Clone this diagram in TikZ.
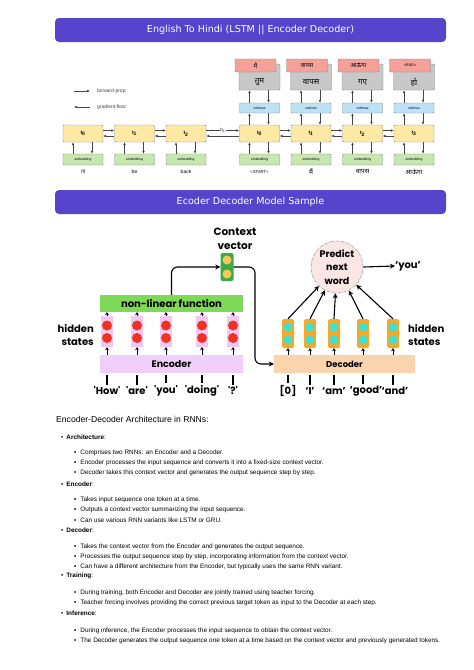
\documentclass[tikz,border=0pt]{standalone}
\usepackage{fontspec}
\setmainfont{Liberation Sans}
\newfontfamily\devfont[Script=Devanagari]{Noto Sans}
\newfontfamily\titlefont{DejaVu Sans}
\newfontfamily\popfont{Poppins}
\usetikzlibrary{arrows.meta}
\definecolor{barpurple}{RGB}{86,68,204}
\definecolor{tyellow}{RGB}{253,233,163}
\definecolor{tgreen}{RGB}{199,230,176}
\definecolor{tblue}{RGB}{190,226,245}
\definecolor{tred}{RGB}{245,160,152}
\definecolor{tgray}{RGB}{200,200,200}
\definecolor{tborder}{RGB}{135,135,135}
\definecolor{tarrow}{RGB}{70,70,70}
\definecolor{nlgreen}{RGB}{126,217,87}
\definecolor{encpink}{RGB}{240,208,250}
\definecolor{hidpink}{RGB}{240,200,245}
\definecolor{dotred}{RGB}{240,50,30}
\definecolor{decpeach}{RGB}{250,212,172}
\definecolor{colorange}{RGB}{247,168,40}
\definecolor{dotcyan}{RGB}{60,225,210}
\definecolor{cvgreen}{RGB}{60,170,70}
\definecolor{cvyellow}{RGB}{250,200,90}
\definecolor{predpink}{RGB}{251,230,230}
\begin{document}
\begin{tikzpicture}[x=1pt,y=-1pt,
  titlebar/.style={fill=barpurple,rounded corners=4pt,minimum width=391pt,minimum height=24pt,inner sep=0,text=white,font=\titlefont\fontsize{9.6}{11}\selectfont},
  tbase/.style={draw=tborder,rounded corners=1pt,inner sep=0,line width=0.4pt},
  tbox/.style={tbase,fill=tyellow,minimum width=40pt,minimum height=17pt,font=\fontsize{5}{6}\selectfont\bfseries},
  ebox/.style={tbase,fill=tgreen,minimum width=40pt,minimum height=11pt,font=\fontsize{3.4}{4}\selectfont},
  sbox/.style={tbase,fill=tblue,minimum width=40pt,minimum height=10pt,font=\fontsize{3.4}{4}\selectfont},
  gbox/.style={tbase,fill=tgray,minimum width=41pt,minimum height=26pt},
  rbox/.style={tbase,fill=tred,minimum width=41pt,minimum height=13pt,font=\devfont\fontsize{6}{7}\selectfont},
  gtext/.style={inner sep=0,font=\devfont\fontsize{8}{9}\selectfont},
  tlabel/.style={inner sep=0,font=\fontsize{5}{6}\selectfont},
  dlabel/.style={inner sep=0,font=\devfont\fontsize{6.5}{7}\selectfont},
  legend/.style={inner sep=0,anchor=west,text=tarrow,font=\fontsize{5}{6}\selectfont},
  tarr/.style={draw=tarrow,line width=0.5pt,-{Latex[length=3pt,width=2.6pt]}},
  pop/.style={inner sep=0,font=\popfont\bfseries\fontsize{10}{13}\selectfont},
  hcol/.style={fill=hidpink,minimum width=12pt,minimum height=31pt,inner sep=0},
  rdot/.style={circle,fill=dotred,minimum size=10pt,inner sep=0},
  ocol/.style={fill=colorange,rounded corners=2pt,minimum width=12pt,minimum height=29pt,inner sep=0},
  cdot/.style={circle,fill=dotcyan,minimum size=9pt,inner sep=0},
  ydot/.style={circle,fill=cvyellow,minimum size=9pt,inner sep=0},
  sarr/.style={line width=1pt,-{Stealth[length=3pt,width=3.8pt]}},
  barrow/.style={line width=1.1pt,-{Stealth[length=5pt,width=5pt]}},
  tickline/.style={line width=1.3pt,shorten <=2pt,shorten >=2pt},
  para/.style={anchor=west,inner sep=0,font=\fontsize{6.4}{7}\selectfont},
]
\useasboundingbox (0,0) rectangle (474,670);
\fill[white] (0,0) rectangle (474,670);

% ---------- title bars
\node[titlebar] (title1) at (250.5,30) {English To Hindi (LSTM || Encoder Decoder)};
\node[titlebar] (title2) at (250.5,202) {Ecoder Decoder Model Sample};

% ---------- legend
\coordinate (lf1) at (74,91); \coordinate (lf2) at (90,91);
\draw[tarr] (lf1) -- (lf2);
\node[legend] (lfp) at (97,91) {forward-prop};
\coordinate (lg1) at (74,107); \coordinate (lg2) at (90,107);
\draw[tarr] (lg2) -- (lg1);
\node[legend] (lgf) at (97,107) {gradient-flow};

% ---------- encoder (top)
\foreach \i/\x in {0/83,1/134.5,2/186}{
  \node[tbox] (et\i) at (\x,133.5) {t\textsubscript{\i}};
  \node[ebox] (ee\i) at (\x,159.5) {embedding};
  \draw[tarr] ([xshift=-10pt]ee\i.north) -- ([xshift=-10pt]et\i.south);
  \draw[tarr] ([xshift=9pt]et\i.south) -- ([xshift=9pt]ee\i.north);
}
\node[tlabel] (ew0) at (83,172) {I'll};
\node[tlabel] (ew1) at (134.5,172) {be};
\node[tlabel] (ew2) at (186,172) {back};

% ---------- decoder (top)
\foreach \i/\x in {0/259.5,1/311,2/362.5,3/414}{
  \node[tbox] (dt\i) at (\x,133.5) {t\textsubscript{\i}};
  \node[ebox] (de\i) at (\x,159.5) {embedding};
  \node[sbox] (ds\i) at (\x,108) {softmax};
  \node[gbox] (dg\i) at (\x,77) {};
  \draw[tarr] ([xshift=-10pt]de\i.north) -- ([xshift=-10pt]dt\i.south);
  \draw[tarr] ([xshift=9pt]dt\i.south) -- ([xshift=9pt]de\i.north);
  \draw[tarr] ([xshift=-10pt]dt\i.north) -- ([xshift=-10pt]ds\i.south);
  \draw[tarr] ([xshift=9pt]ds\i.south) -- ([xshift=9pt]dt\i.north);
  \draw[tarr] ([xshift=-10pt]ds\i.north) -- ([xshift=-10pt]dg\i.south);
  \draw[tarr] ([xshift=9pt]dg\i.south) -- ([xshift=9pt]ds\i.north);
}
\node[gtext] (dgt0) at (259.5,82) {तुम};
\node[gtext] (dgt1) at (311,82) {वापस};
\node[gtext] (dgt2) at (362.5,82) {गए};
\node[gtext] (dgt3) at (414,82) {हो};
\node[rbox] (dr0) at (255.5,65.5) {मैं};
\node[rbox] (dr1) at (307,65.5) {वापस};
\node[rbox] (dr2) at (358.5,65.5) {आऊंगा};
\node[rbox,font=\fontsize{3.8}{4}\selectfont] (dr3) at (410,65.5) {<END>};
\node[tlabel,font=\fontsize{4.2}{5}\selectfont] (dw0) at (259.5,172) {<START>};
\node[dlabel] (dw1) at (311,172) {मैं};
\node[dlabel] (dw2) at (362.5,172) {वापस};
\node[dlabel] (dw3) at (414,172) {आऊंगा};

% horizontal arrows
\foreach \a/\b in {et0/et1,et1/et2,dt0/dt1,dt1/dt2,dt2/dt3}{
  \draw[tarr] ([yshift=3pt]\a.east) -- ([yshift=3pt]\b.west);
  \draw[tarr] ([yshift=-2.5pt]\b.west) -- ([yshift=-2.5pt]\a.east);
}
\draw[tarr] ([yshift=3pt]et2.east) -- node[fill=white,inner sep=0.6pt,font=\fontsize{4.5}{5}\selectfont] (h2) {h\textsubscript{2}} ([yshift=3pt]dt0.west);
\draw[tarr] ([yshift=-2.5pt]dt0.west) -- ([yshift=-2.5pt]et2.east);

% ---------- second diagram
\node[pop,align=center,font=\popfont\bfseries\fontsize{10.5}{14}\selectfont] (cvt) at (235,239) {Context\\vector};
\node[fill=cvgreen,rounded corners=2pt,minimum width=13pt,minimum height=28pt,inner sep=0] (cv) at (227,267) {};
\node[ydot] (cvd1) at (227,260) {};
\node[ydot] (cvd2) at (227,274) {};

\node[fill=nlgreen,minimum width=143pt,minimum height=17pt,inner sep=0,font=\popfont\bfseries\fontsize{10}{12}\selectfont] (nlf) at (171.5,303.5) {non-linear function};
\node[fill=encpink,minimum width=143pt,minimum height=18pt,inner sep=0,font=\popfont\bfseries\fontsize{9.5}{12}\selectfont] (enc) at (171.5,364) {Encoder};

\foreach \i/\x/\w in {1/107/How,2/137/are,3/166/you,4/202/doing,5/233/?}{
  \node[hcol] (hc\i) at (\x,331.5) {};
  \node[rdot] (hr\i a) at (\x,325.5) {};
  \node[rdot] (hr\i b) at (\x,338) {};
  \draw[sarr] (enc.north -| hc\i) -- (hc\i.south);
  \draw[sarr] (hc\i.north) -- (hc\i.north |- nlf.south);
  \node[pop] (wl\i) at (\x,391) {\textquotesingle\w\textquotesingle};
  \draw[tickline] (enc.south -| hc\i) -- (wl\i.north -| hc\i);
}
\node[pop,align=right,anchor=east] (hsl) at (94,335) {hidden\\states};

\draw[barrow,rounded corners=6pt] (nlf.north) |- (cv.west);

\node[fill=decpeach,minimum width=141pt,minimum height=18pt,inner sep=0,font=\popfont\bfseries\fontsize{8.5}{10}\selectfont] (dec) at (344.5,364) {Decoder};
\coordinate (turn) at (255,300);
\draw[barrow,rounded corners=6pt] (cv.east) -| (turn) |- (dec.west);

\node[circle,minimum size=52pt,inner sep=0,fill=predpink,draw=gray!75,line width=0.6pt,dash pattern=on 3pt off 1pt on 0.6pt off 1pt,align=center,font=\popfont\bfseries\fontsize{9.5}{13.5}\selectfont] (pred) at (337,267) {Predict\\next\\word};
\node[pop] (you) at (408,266) {‘you’};
\draw[barrow] (pred.east) -- (you.west);

\foreach \i/\x/\lx/\w in {1/288/288/[0],2/310/310/‘I’,3/334/334/‘am’,4/363/366/‘good’,5/393/395/‘and’}{
  \node[ocol] (oc\i) at (\x,333.5) {};
  \node[cdot] (oc\i a) at (\x,327) {};
  \node[cdot] (oc\i b) at (\x,340) {};
  \draw[sarr] (dec.north -| oc\i) -- (oc\i.south);
  \draw[barrow] (oc\i.north) -- (pred);
  \node[pop] (dl\i) at (\lx,391) {\w};
  \draw[tickline] (dec.south -| oc\i) -- (dl\i.north -| oc\i);
}
\node[pop,align=left,anchor=west] (hsr) at (408,335) {hidden\\states};

% ---------- text section
\node[anchor=west,inner sep=0,font=\fontsize{8.6}{10}\selectfont] (head) at (56,419) {Encoder-Decoder Architecture in RNNs:};
\node[para] (p1) at (61,437) {•\hspace{3pt}\textbf{Architecture}:};
\node[para] (p2) at (74,453) {▪\hspace{4pt}Comprises two RNNs: an Encoder and a Decoder.};
\node[para] (p3) at (74,463) {▪\hspace{4pt}Encoder processes the input sequence and converts it into a fixed-size context vector.};
\node[para] (p4) at (74,473) {▪\hspace{4pt}Decoder takes this context vector and generates the output sequence step by step.};
\node[para] (p5) at (61,484) {•\hspace{3pt}\textbf{Encoder}:};
\node[para] (p6) at (74,500) {▪\hspace{4pt}Takes input sequence one token at a time.};
\node[para] (p7) at (74,510) {▪\hspace{4pt}Outputs a context vector summarizing the input sequence.};
\node[para] (p8) at (74,520) {▪\hspace{4pt}Can use various RNN variants like LSTM or GRU.};
\node[para] (p9) at (61,530) {•\hspace{3pt}\textbf{Decoder}:};
\node[para] (p10) at (74,547) {▪\hspace{4pt}Takes the context vector from the Encoder and generates the output sequence.};
\node[para] (p11) at (74,557) {▪\hspace{4pt}Processes the output sequence step by step, incorporating information from the context vector.};
\node[para] (p12) at (74,567) {▪\hspace{4pt}Can have a different architecture from the Encoder, but typically uses the same RNN variant.};
\node[para] (p13) at (61,576) {•\hspace{3pt}\textbf{Training}:};
\node[para] (p14) at (74,593) {▪\hspace{4pt}During training, both Encoder and Decoder are jointly trained using teacher forcing.};
\node[para] (p15) at (74,603) {▪\hspace{4pt}Teacher forcing involves providing the correct previous target token as input to the Decoder at each step.};
\node[para] (p16) at (61,613) {•\hspace{3pt}\textbf{Inference}:};
\node[para] (p17) at (74,631) {▪\hspace{4pt}During inference, the Encoder processes the input sequence to obtain the context vector.};
\node[para] (p18) at (74,641) {▪\hspace{4pt}The Decoder generates the output sequence one token at a time based on the context vector and previously generated tokens.};
\end{tikzpicture}
\end{document}
